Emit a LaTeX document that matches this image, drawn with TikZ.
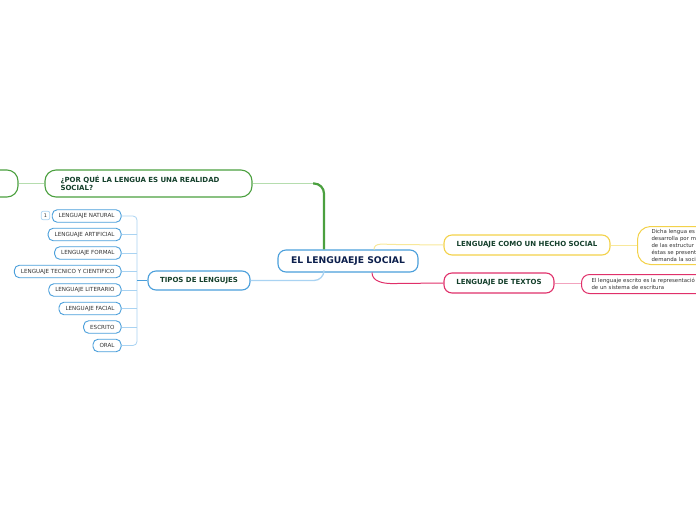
\documentclass[tikz,border=0pt]{standalone}
\usepackage{fontspec}
\setmainfont{DejaVu Sans}
\usetikzlibrary{positioning}

\definecolor{mapblue}{HTML}{4A9FDB}
\definecolor{mapbluelight}{HTML}{A9D3F2}
\definecolor{mapgreen}{HTML}{4BA03F}
\definecolor{mapgreenlight}{HTML}{B5DDAE}
\definecolor{mapyellow}{HTML}{F3D24A}
\definecolor{mapyellowlight}{HTML}{F8E89A}
\definecolor{mappink}{HTML}{E0306A}
\definecolor{mappinklight}{HTML}{F2A3BE}
\definecolor{titletext}{HTML}{15402C}
\definecolor{centertext}{HTML}{0C1F4C}
\definecolor{leaftext}{HTML}{333333}

\tikzset{
    main topic/.style={
      draw=mapblue,
      line width=1.1pt,
      fill=white,
      rounded corners=8pt,
      minimum width=140pt,
      minimum height=22pt,
      font=\fontsize{9.2}{10}\selectfont\bfseries,
      text=centertext
    },
    sub topic/.style={
      line width=1.1pt,
      fill=white,
      rounded corners=8pt,
      minimum height=20pt,
      font=\fontsize{7}{8.5}\selectfont\bfseries,
      text=titletext
    },
    leaf topic/.style={
      draw=mapblue,
      line width=0.9pt,
      fill=white,
      rounded corners=5pt,
      minimum height=12.5pt,
      inner xsep=6.5pt,
      inner ysep=0pt,
      font=\fontsize{5.6}{6}\selectfont,
      text=leaftext,
      anchor=east
    },
    note topic/.style={
      line width=1pt,
      fill=white,
      rounded corners=10pt,
      anchor=north west,
      align=left,
      font=\fontsize{5.4}{6.9}\selectfont,
      text=leaftext
    },
    tree link/.style={
      draw=mapbluelight,
      line width=0.8pt,
      rounded corners=4pt
    }
  }

\begin{document}
\begin{tikzpicture}[x=1pt,y=-1pt]
      \useasboundingbox (0,0) rectangle (696,520);

      % nodos
      \node[main topic] (lenguaje) at (348,261) {EL LENGUAEJE SOCIAL};
      \node[sub topic, draw=mapgreen, minimum width=207pt, minimum height=27pt,
            text width=176pt, inner xsep=15.5pt, align=left, rounded corners=11pt]
            (porque) at (148.5,183.5) {¿POR QUÉ LA LENGUA ES UNA REALIDAD\\SOCIAL?};
      \node[sub topic, draw=mapgreen, minimum width=48pt, minimum height=27pt,
            rounded corners=11pt] (previo) at (-6,183.5) {};
      \node[sub topic, draw=mapblue, minimum width=102pt, minimum height=19pt]
            (tipos) at (199,280.5) {TIPOS DE LENGUJES};
      \node[sub topic, draw=mapyellow, minimum width=166pt]
            (hecho) at (527,245) {LENGUAJE COMO UN HECHO SOCIAL};
      \node[sub topic, draw=mappink, minimum width=110pt]
            (textos) at (499,283) {LENGUAJE DE TEXTOS};

      % notas
      \node[note topic, draw=mapyellow, text width=104pt, minimum height=38pt,
            inner xsep=14pt, inner ysep=3pt, rounded corners=13pt]
            (notahecho) at (637,226) {Dicha lengua es\\desarrolla por m\\de las estructur\\éstas se present\\demanda la soci};
      \node[note topic, draw=mappink, text width=160pt, minimum height=19pt,
            inner xsep=10pt, inner ysep=2.6pt, rounded corners=8pt]
            (notatextos) at (581,274) {El lenguaje escrito es la representació\\de un sistema de escritura};

      % tipos
      \node[leaf topic] (natural) at (121.5,216) {LENGUAJE NATURAL};
      \node[leaf topic] (artificial) at (121.5,234.5) {LENGUAJE ARTIFICIAL};
      \node[leaf topic] (formal) at (121.5,253) {LENGUAJE FORMAL};
      \node[leaf topic] (tecnico) at (121.5,271.5) {LENGUAJE TECNICO Y CIENTIFICO};
      \node[leaf topic] (literario) at (121.5,290) {LENGUAJE LITERARIO};
      \node[leaf topic] (facial) at (121.5,308.5) {LENGUAJE FACIAL};
      \node[leaf topic] (escrito) at (121.5,327) {ESCRITO};
      \node[leaf topic] (oral) at (121.5,345.5) {ORAL};
      \node[draw=mapbluelight, line width=0.7pt, rounded corners=2pt,
            minimum width=8.5pt, minimum height=8.5pt, inner sep=0pt,
            font=\fontsize{5}{5}\selectfont, text=leaftext]
            (numero) at (45.5,215.5) {1};

      % conectores
      \coordinate (tronco) at (137,280.5);
      \draw[tree link] (natural.east) -| (tronco) |- (oral.east);
      \foreach \n in {artificial,formal,tecnico,literario,facial,escrito}
        \draw[tree link] (\n.east) -- (\n.east -| tronco);
      \draw[draw=mapblue, line width=1.6pt] (tronco) -- (tipos.west);

      \coordinate (codo) at (324,183.5);
      \draw[draw=mapgreenlight, line width=1pt] (porque.east) -- ([xshift=-10pt]codo);
      \draw[draw=mapgreen, line width=2.2pt, rounded corners=10pt]
        ([xshift=-11pt]codo) -- (codo) -- (lenguaje.north -| codo);
      \draw[draw=mapgreenlight, line width=0.9pt] (porque.west) -- (previo.east);

      \draw[draw=mapbluelight, line width=1.3pt, rounded corners=10pt]
        (tipos.east) -| ([xshift=-24pt]lenguaje.south);
      \draw[draw=mapyellowlight, line width=1pt]
        ([xshift=26pt]lenguaje.north) to[out=90,in=180] ++(18,-5) -- (hecho.west);
      \draw[draw=mappink, line width=1pt]
        ([xshift=24pt]lenguaje.south) to[out=-90,in=180] ++(20,11) -- (textos.west);
      \draw[draw=mapyellowlight, line width=0.9pt] (hecho.east) -- (notahecho.west |- hecho.east);
      \draw[draw=mappinklight, line width=0.9pt] (textos.east) -- (notatextos.west |- textos.east);
    \end{tikzpicture}
\end{document}
